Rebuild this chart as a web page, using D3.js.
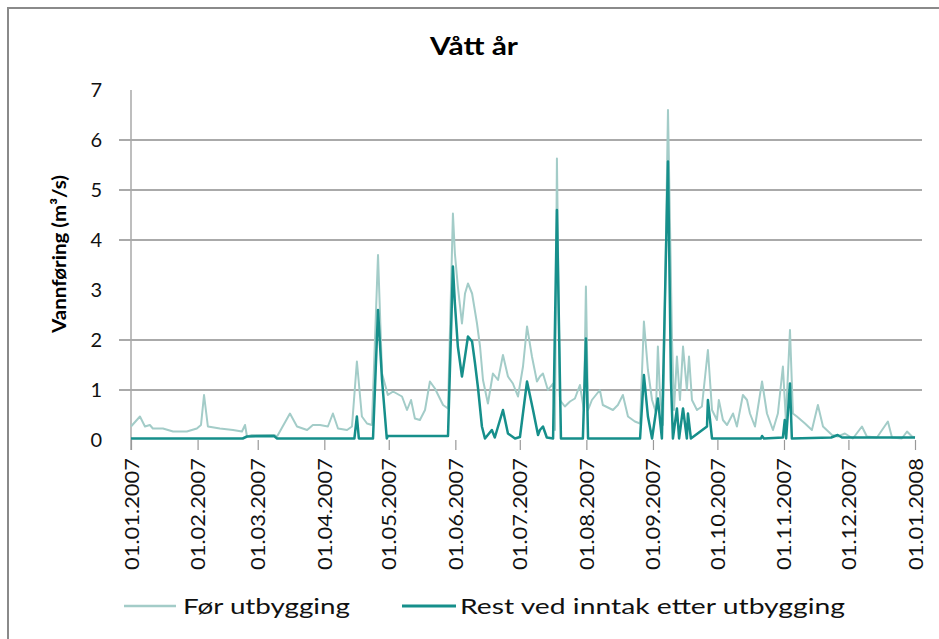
<!DOCTYPE html>
<html>
<head>
<meta charset="utf-8">
<script src="https://cdn.jsdelivr.net/npm/d3@7"></script>
<style>
    body { margin: 0; background: #fff; }
    svg { display: block; font-family: Lato, "Open Sans", sans-serif; }
</style>
</head>
<body>
<svg id="chart" width="939" height="639"></svg>
<script>
// chart data (day offset from 01.01.2007, m3/s)
const title = "Vått år";
const yTitle = "Vannføring (m³/s)";
const seriesNames = ["Før utbygging", "Rest ved inntak etter utbygging"];
const yTicks = [0, 1, 2, 3, 4, 5, 6, 7];
const gridValues = [1, 2, 4, 5, 6];
const monthTicks = ["2007-01-01", "2007-02-01", "2007-03-01", "2007-04-01", "2007-05-01", "2007-06-01",
    "2007-07-01", "2007-08-01", "2007-09-01", "2007-10-01", "2007-11-01", "2007-12-01", "2008-01-01"];

const forDay = [0, 4.2, 6.5, 8.8, 10.2, 14.9, 19.6, 26, 30.7, 32.6, 34, 35.8, 41.4, 47.5, 51.7, 53.1, 54,
    56.3, 66.6, 68, 74, 77.3, 82, 84.7, 88, 91.7, 94, 96.4, 100.6, 102.9, 105.2, 107.5, 109.9, 112.2,
    115, 116.9, 119.6, 122, 126.2, 128.5, 130.4, 132.2, 134.5, 136.9, 139.2, 141.5, 145.3, 147.6,
    149.9, 150.8, 152.2, 154.1, 155.5, 156.9, 158.8, 161.1, 162.5, 163.9, 166.2, 168.5, 170.9, 173.2,
    175.5, 177.8, 180.2, 182.5, 184.4, 186.7, 189, 190.4, 191.8, 194.1, 196.5, 197.4, 198.3, 199.7,
    202, 204.4, 206.7, 209, 210.9, 211.8, 212.8, 214.6, 218.3, 219.7, 224.4, 226.7, 229, 231.4,
    234.6, 237, 238.8, 240.7, 242.6, 244.4, 245.3, 246.3, 247.7, 250, 251.9, 252.8, 254.2, 255.6,
    257, 258.8, 259.8, 261.2, 263.5, 265.8, 268.6, 270.5, 272.8, 273.7, 275.6, 277.5, 280.3, 282.1,
    284.9, 286.8, 288.2, 290.5, 293.8, 296.1, 298.9, 301.2, 303.5, 304.9, 306.8, 308.2, 310, 313.8,
    317, 319.8, 322.2, 326.4, 329.1, 332.4, 336.1, 340.3, 342.6, 347.3, 352.4, 354.3, 358.9, 361.3,
    363.6, 365];
const forFlow = [0.27, 0.47, 0.27, 0.3, 0.23, 0.23, 0.17, 0.17, 0.23, 0.3, 0.9, 0.27, 0.23, 0.2, 0.17, 0.3, 0.07,
    0.1, 0.1, 0.07, 0.53, 0.27, 0.2, 0.3, 0.3, 0.27, 0.53, 0.23, 0.2, 0.27, 1.57, 0.47, 0.33, 0.3,
    3.7, 1.33, 0.9, 0.97, 0.87, 0.6, 0.8, 0.43, 0.4, 0.6, 1.17, 1.03, 0.7, 0.63,
    4.53, 3.73, 3.07, 2.33, 2.93, 3.13, 2.93, 2.33, 1.87, 1.2, 0.73, 1.33, 1.2, 1.7,
    1.27, 1.13, 0.87, 1.47, 2.27, 1.67, 1.17, 1.27, 1.33, 1.0, 1.13, 0.2, 5.63, 0.8,
    0.67, 0.77, 0.83, 1.1, 0.6, 3.07, 0.6, 0.8, 1.0, 0.7, 0.6, 0.7, 0.9, 0.47,
    0.37, 0.33, 2.37, 1.4, 0.8, 0.55, 1.87, 0.9, 0.3, 6.6, 2.0, 0.6, 1.67, 0.8,
    1.87, 1.0, 1.67, 0.8, 0.6, 0.67, 1.8, 0.6, 0.4, 0.8, 0.4, 0.3, 0.53, 0.27,
    0.9, 0.8, 0.53, 0.27, 1.17, 0.53, 0.2, 0.53, 1.47, 0.4, 2.2, 0.53, 0.47, 0.33,
    0.2, 0.7, 0.27, 0.1, 0.07, 0.13, 0.03, 0.27, 0.07, 0.05, 0.37, 0.05, 0.03, 0.17,
    0.07, 0.05];

const restDay = [0, 52, 54, 66.6, 68, 104, 105.2, 106.1, 112.7, 115, 116.9, 119.1, 119.6, 147.6,
    149.9, 150.8, 152.2, 154.1, 155.5, 156.9, 158.8, 160.2, 161.6, 163.4, 164.8, 168, 169.4, 173.2,
    175.5, 178.8, 181.1, 184.4, 187.2, 189.5, 190.4, 191.8, 193.6, 196.5, 198.3, 200.2, 210.4, 211.8,
    212.8, 237, 238.8, 240.7, 242.6, 245.3, 247.2, 250, 251.4, 252.3, 254.2, 255.2, 257, 258.8,
    259.3, 260.7, 268.2, 268.6, 270.5, 293.3, 293.8, 294.7, 303.5, 304.4, 305, 306.8, 307.7, 326,
    329, 331, 365];
const restFlow = [0.03, 0.03, 0.07, 0.08, 0.03, 0.03, 0.47, 0.03, 0.03, 2.6, 1.2, 0.03, 0.08, 0.08,
    3.47, 2.73, 1.87, 1.27, 1.67, 2.07, 1.97, 1.53, 1.03, 0.27, 0.03, 0.2, 0.05, 0.6,
    0.13, 0.03, 0.06, 1.17, 0.6, 0.1, 0.2, 0.27, 0.05, 0.03, 4.6, 0.03, 0.03, 2.03,
    0.03, 0.03, 1.3, 0.47, 0.03, 0.83, 0.03, 5.57, 1.2, 0.03, 0.63, 0.03, 0.63, 0.03,
    0.53, 0.03, 0.27, 0.8, 0.03, 0.03, 0.08, 0.03, 0.05, 0.4, 0.03, 1.13, 0.03, 0.05,
    0.1, 0.05, 0.05];

const colors = ["#a3ccc8", "#168f8b"];

const svg = d3.select("#chart");
const parse = d3.timeParse("%Y-%m-%d");
const start = parse("2007-01-01");

const x = d3.scaleTime()
    .domain([start, parse("2008-01-01")])
    .range([131, 915]);

const y = d3.scaleLinear()
    .domain([0, 7])
    .range([440, 90]);

// outer chart frame (runs off the right and bottom edge like the scan)
svg.append("rect")
    .attr("x", 8).attr("y", 8)
    .attr("width", 960).attr("height", 660)
    .attr("fill", "none")
    .attr("stroke", "#8a8a8a")
    .attr("stroke-width", 2);

// title
svg.append("text")
    .attr("x", 474)
    .attr("y", 55)
    .attr("text-anchor", "middle")
    .style("font-size", "24px")
    .style("font-weight", "bold")
    .attr("textLength", 88)
    .attr("lengthAdjust", "spacingAndGlyphs")
    .text(title);

// gridlines (the reference only shows some of them)
svg.append("g")
    .selectAll("line")
    .data(gridValues)
    .join("line")
    .attr("x1", 119)
    .attr("x2", 922)
    .attr("y1", d => y(d))
    .attr("y2", d => y(d))
    .attr("stroke", "#8e8e8e")
    .attr("stroke-width", 1.5);

// y axis
const yAxis = svg.append("g")
    .attr("transform", "translate(131,0)")
    .call(d3.axisLeft(y).tickValues(yTicks).tickSize(0).tickPadding(29).tickFormat(d3.format("d")));
yAxis.select(".domain").attr("stroke", "#a8a8a8").attr("stroke-width", 1.5)
    .attr("d", `M0,${y(7)}V${y(0) + 10}`);
yAxis.selectAll("text")
    .style("font-size", "20px")
    .style("font-family", "Lato, sans-serif")
    .attr("fill", "#111");

svg.append("text")
    .attr("transform", "translate(66,254) rotate(-90)")
    .attr("text-anchor", "middle")
    .style("font-size", "19px")
    .style("font-weight", "bold")
    .attr("textLength", 158)
    .attr("lengthAdjust", "spacingAndGlyphs")
    .text(yTitle);

// x axis
const xAxis = svg.append("g")
    .attr("transform", `translate(0,${y(0)})`)
    .call(d3.axisBottom(x)
        .tickValues(monthTicks.map(parse))
        .tickSize(10)
        .tickFormat(d3.timeFormat("%d.%m.%Y")));
xAxis.select(".domain").remove();
xAxis.selectAll(".tick line").attr("stroke", "#999").attr("stroke-width", 1.2);
xAxis.selectAll("text")
    .attr("transform", "rotate(-90)")
    .attr("text-anchor", "end")
    .attr("x", -18)
    .attr("y", 0)
    .attr("dy", "0.35em")
    .attr("textLength", 112)
    .attr("lengthAdjust", "spacingAndGlyphs")
    .style("font-size", "20px")
    .style("font-family", "Lato, sans-serif")
    .attr("fill", "#111");

// series
const line = d3.line()
    .x(d => x(d.date))
    .y(d => y(d.value));

const forData = forDay.map((d, i) => ({date: d3.timeHour.offset(start, d * 24), value: forFlow[i]}));
const restData = restDay.map((d, i) => ({date: d3.timeHour.offset(start, d * 24), value: restFlow[i]}));

svg.append("path")
    .datum(forData)
    .attr("fill", "none")
    .attr("stroke", colors[0])
    .attr("stroke-width", 2)
    .attr("stroke-linejoin", "round")
    .attr("d", line);

svg.append("path")
    .datum(restData)
    .attr("fill", "none")
    .attr("stroke", colors[1])
    .attr("stroke-width", 2.5)
    .attr("stroke-linejoin", "round")
    .attr("d", line);

// legend
const legendPos = [{x: 124, len: 52, tx: 183, tl: 167}, {x: 402, len: 54, tx: 460, tl: 385}];
const legend = svg.append("g")
    .selectAll("g")
    .data(seriesNames)
    .join("g");
legend.append("line")
    .attr("x1", (d, i) => legendPos[i].x)
    .attr("x2", (d, i) => legendPos[i].x + legendPos[i].len)
    .attr("y1", 606).attr("y2", 606)
    .attr("stroke", (d, i) => colors[i])
    .attr("stroke-width", (d, i) => i ? 3 : 2.5);
legend.append("text")
    .attr("x", (d, i) => legendPos[i].tx)
    .attr("y", 614)
    .attr("textLength", (d, i) => legendPos[i].tl)
    .attr("lengthAdjust", "spacingAndGlyphs")
    .style("font-size", "22px")
    .attr("fill", "#111")
    .text(d => d);
</script>
</body>
</html>
